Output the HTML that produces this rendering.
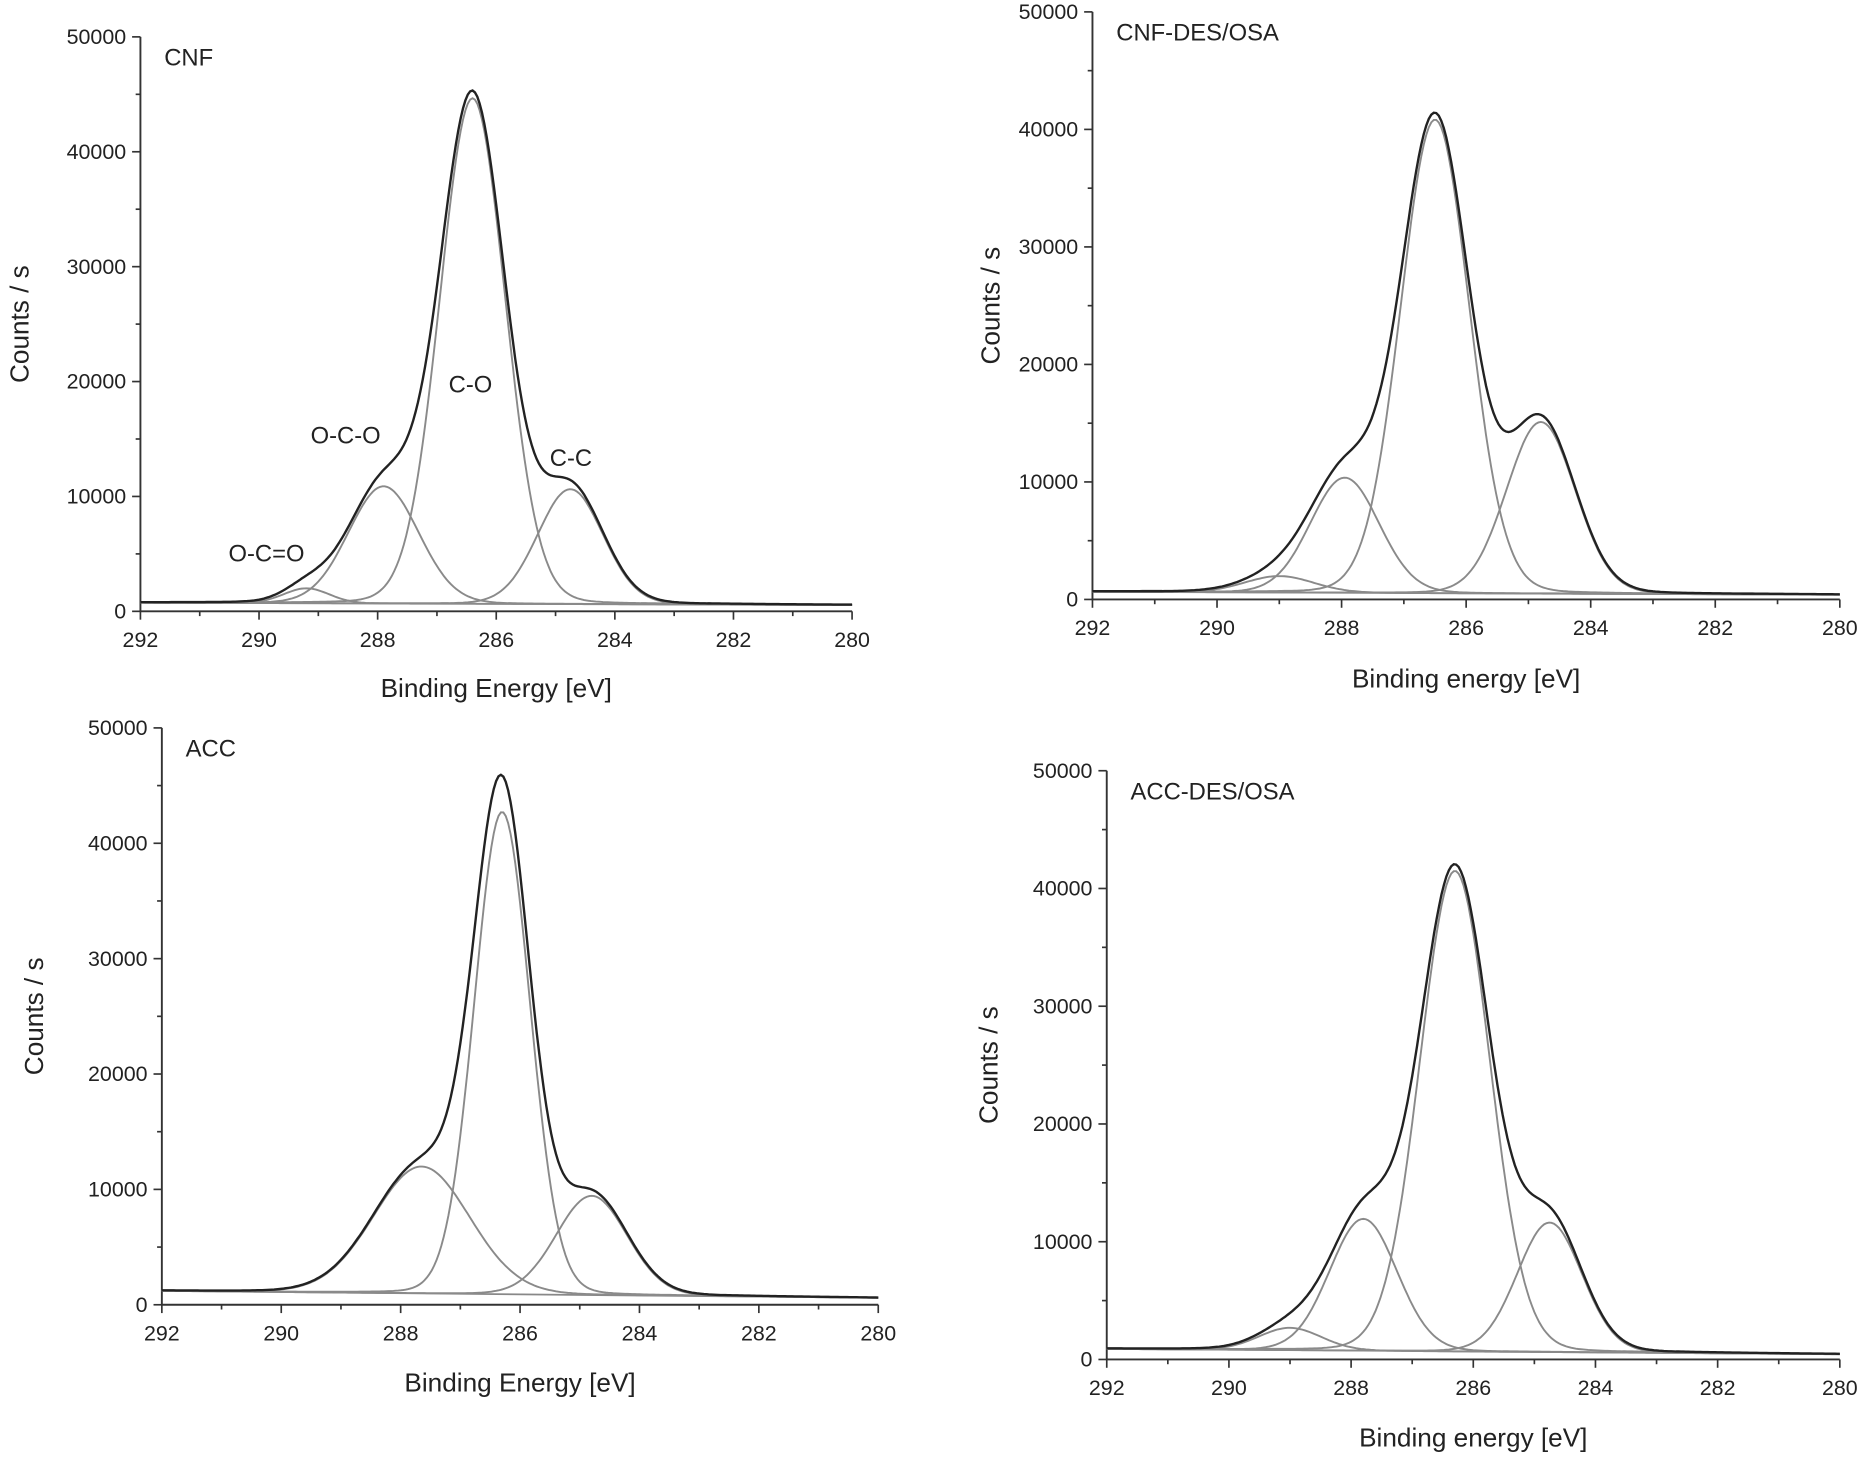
<!DOCTYPE html>
<html><head><meta charset="utf-8"><style>
html,body{margin:0;padding:0;background:#fff;}
svg{display:block;font-family:"Liberation Sans",Arial,sans-serif;}
</style></head><body>
<svg id="fig" width="1866" height="1457" viewBox="0 0 1568 1225" preserveAspectRatio="none"></svg>
<script>
// Panel data: peak components (center eV, height counts, FWHM eV), backgrounds at 292 and 280 eV
const panelTitles = ["CNF", "CNF-DES/OSA", "ACC", "ACC-DES/OSA"];
const xAxisTitles = ["Binding Energy [eV]", "Binding energy [eV]", "Binding Energy [eV]", "Binding energy [eV]"];
const xTicks = [292, 290, 288, 286, 284, 282, 280];
const yTicks = [0, 10000, 20000, 30000, 40000, 50000];
const centersA = [284.75, 286.4, 287.9, 289.2];
const heightsA = [10000, 44000, 10200, 1300];
const widthsA = [1.3, 1.3, 1.4, 0.9];
const bgA = [750, 550];
const centersB = [284.8, 286.5, 287.95, 289.0];
const heightsB = [14600, 40300, 9800, 1400];
const widthsB = [1.3, 1.3, 1.3, 1.3];
const bgB = [650, 400];
const centersC = [284.8, 286.3, 287.65];
const heightsC = [8600, 41800, 11000];
const widthsC = [1.4, 1.1, 1.9];
const bgC = [1200, 600];
const centersD = [284.75, 286.3, 287.8, 289.0];
const heightsD = [11000, 40800, 11200, 1900];
const widthsD = [1.25, 1.35, 1.3, 1.2];
const bgD = [900, 450];
const peakLabels = ["C-C", "C-O", "O-C-O", "O-C=O"];

const NS = "http://www.w3.org/2000/svg";
const svg = document.getElementById("fig");
function mk(tag, attrs, parent){ const e=document.createElementNS(NS,tag); for(const k in attrs) e.setAttribute(k,attrs[k]); (parent||svg).appendChild(e); return e; }

const frames = [
 {x0:118,x1:716,y0:514,y1:31, c:centersA,h:heightsA,w:widthsA,bg:bgA, ylx:24, xly:586},
 {x0:918,x1:1546,y0:504,y1:10, c:centersB,h:heightsB,w:widthsB,bg:bgB, ylx:840, xly:578},
 {x0:136,x1:738,y0:1097,y1:612, c:centersC,h:heightsC,w:widthsC,bg:bgC, ylx:36, xly:1170},
 {x0:930,x1:1546,y0:1143,y1:648, c:centersD,h:heightsD,w:widthsD,bg:bgD, ylx:838, xly:1216}
];

function pv(x,c,h,w){ const s=w/2.3548; const g=Math.exp(-0.5*((x-c)/s)**2); const l=1/(1+((x-c)/(w/2))**2); return h*(0.95*g+0.05*l); }

frames.forEach((f,pi)=>{
 const g = mk("g",{});
 
 
 const X = e => f.x0 + (292-e)/12*(f.x1-f.x0);
 const Y = v => f.y0 + v/50000*(f.y1-f.y0);
 const bgv = e => f.bg[0] + (292-e)/12*(f.bg[1]-f.bg[0]);
 const ax = mk("path",{d:`M${f.x0} ${f.y1} L${f.x0} ${f.y0} L${f.x1} ${f.y0}`,stroke:"#333","stroke-width":1.6,fill:"none"},g);
  
 for(let e=292;e>=280;e--){ const major=(e%2===0); mk("line",{x1:X(e),x2:X(e),y1:f.y0,y2:f.y0+(major?7:4),stroke:"#333","stroke-width":1.4},g); }
 xTicks.forEach(t=>{ const tx=mk("text",{x:X(t),y:f.y0+30,"font-size":18,"text-anchor":"middle",fill:"#222"},g); tx.textContent=t;
    });
 for(let v=0;v<=50000;v+=5000){ const major=(v%10000===0); mk("line",{x1:f.x0-(major?7:4),x2:f.x0,y1:Y(v),y2:Y(v),stroke:"#333","stroke-width":1.4},g); }
 yTicks.forEach(t=>{ const tx=mk("text",{x:f.x0-12,y:Y(t)+6,"font-size":18,"text-anchor":"end",fill:"#222"},g); tx.textContent=t;
    });
 const yt=mk("text",{x:f.ylx,y:(f.y0+f.y1)/2,"font-size":22,"text-anchor":"middle",fill:"#222",transform:`rotate(-90 ${f.ylx} ${(f.y0+f.y1)/2})`},g);
 yt.textContent="Counts / s";  
 const xt=mk("text",{x:(f.x0+f.x1)/2,y:f.xly,"font-size":22,"text-anchor":"middle",fill:"#222"},g);
 xt.textContent=xAxisTitles[pi];  
 const tt=mk("text",{x:f.x0+20,y:f.y1+24,"font-size":20,fill:"#222"},g);
 tt.textContent=panelTitles[pi];  
 const bl=mk("line",{x1:X(292),x2:X(280),y1:Y(bgv(292)),y2:Y(bgv(280)),stroke:"#888","stroke-width":1.4},g);
  
 f.c.forEach((c,k)=>{
  let d=""; for(let e=292;e>=279.999;e-=0.04){ const v=bgv(e)+pv(e,c,f.h[k],f.w[k]); d+=(d?"L":"M")+X(e).toFixed(1)+" "+Y(v).toFixed(1); }
  const p=mk("path",{d:d,stroke:"#8a8a8a","stroke-width":1.6,fill:"none"},g);
  
  
 });
 let d=""; for(let e=292;e>=279.999;e-=0.04){ let v=bgv(e); f.c.forEach((c,k)=>{v+=pv(e,c,f.h[k],f.w[k]);}); d+=(d?"L":"M")+X(e).toFixed(1)+" "+Y(v).toFixed(1); }
 const env=mk("path",{d:d,stroke:"#222","stroke-width":2,fill:"none"},g);
  
});
const ann=[["C-C",462,392],["C-O",377,330],["O-C-O",261,373],["O-C=O",192,472]];
ann.forEach(a=>{ const t=mk("text",{x:a[1],y:a[2],"font-size":20,fill:"#222"}); t.textContent=a[0];
   });
</script>
</body></html>
